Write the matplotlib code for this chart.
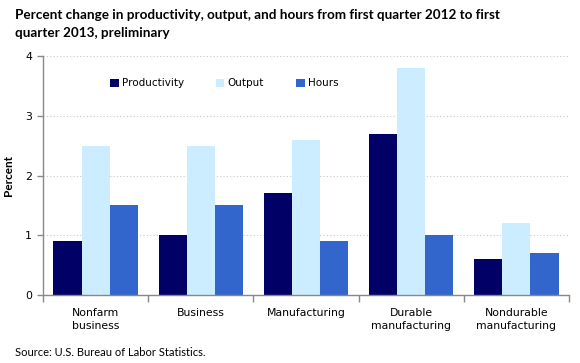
import matplotlib.pyplot as plt
import numpy as np

categories = ["Nonfarm\nbusiness", "Business", "Manufacturing",
              "Durable\nmanufacturing", "Nondurable\nmanufacturing"]
productivity = [0.9, 1.0, 1.7, 2.7, 0.6]
output = [2.5, 2.5, 2.6, 3.8, 1.2]
hours = [1.5, 1.5, 0.9, 1.0, 0.7]

series = [("Productivity", productivity, "#000066"),
          ("Output", output, "#CCECFF"),
          ("Hours", hours, "#3366CC")]

fig = plt.figure(figsize=(5.8, 3.63), dpi=100)
ax = fig.add_axes([0.0741, 0.187, 0.907, 0.659])

x = np.arange(len(categories))
w = 0.8 / 3
for i, (name, vals, color) in enumerate(series):
    ax.bar(x + (i - 1) * w, vals, w, color=color, label=name, zorder=2)

ax.set_xlim(-0.5, len(categories) - 0.5)
ax.set_ylim(0, 4)
ax.set_yticks([0, 1, 2, 3, 4])
ax.yaxis.grid(True, linestyle=(0, (1, 2)), color="#c8c8c8", linewidth=0.8, zorder=0)

ax.set_xticks(x)
ax.set_xticklabels(categories, fontsize=7.8, family="DejaVu Sans", linespacing=1.45)
ax.set_xticks(np.arange(len(categories) + 1) - 0.5, minor=True)
ax.tick_params(axis="x", which="major", length=0, pad=9)
ax.tick_params(axis="x", which="minor", length=5, color="#888888", width=1)
ax.tick_params(axis="y", length=4, color="#888888", width=1, labelsize=7.8, pad=4)

for s in ["top", "right"]:
    ax.spines[s].set_visible(False)
for s in ["left", "bottom"]:
    ax.spines[s].set_color("#888888")
    ax.spines[s].set_linewidth(1)

ax.set_ylabel("Percent", fontsize=8.5, fontweight="bold", family="Lato", labelpad=8)

ax.legend(loc="upper left", bbox_to_anchor=(0.11, 0.945), ncol=3, frameon=False,
          handlelength=0.8, handleheight=0.8, handletextpad=0.3,
          columnspacing=3.1, prop={"family": "DejaVu Sans", "size": 7.5})

fig.text(0.026, 0.975, "Percent change in productivity, output, and hours from first quarter 2012 to first\nquarter 2013, preliminary",
         fontsize=9.7, fontweight="bold", family="Lato", va="top", ha="left", linespacing=1.55)
fig.text(0.026, 0.03, "Source: U.S. Bureau of Labor Statistics.", fontsize=8,
         family="Lato", va="center", ha="left")

fig.savefig("out.png", dpi=100)
